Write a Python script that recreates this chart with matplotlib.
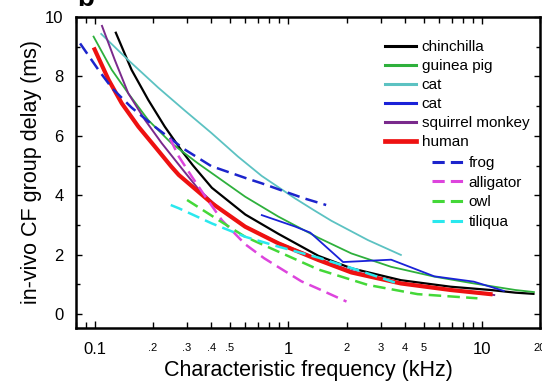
import matplotlib
matplotlib.use("Agg")
import matplotlib.pyplot as plt
from matplotlib.ticker import FixedLocator, FixedFormatter, NullFormatter
from matplotlib.lines import Line2D

plt.rcParams["font.family"] = ["Liberation Sans", "DejaVu Sans"]

# data: frequency in kHz, delay in ms
chin_f = [0.1285, 0.155, 0.189, 0.23, 0.281, 0.322, 0.403, 0.6, 0.889, 1.43, 2.12, 3.82, 6.9, 11.1, 14.9, 18.5]
chin_d = [9.47, 8.22, 7.21, 6.31, 5.5, 5.0, 4.25, 3.35, 2.7, 1.96, 1.54, 1.14, 0.92, 0.81, 0.72, 0.68]

gpig_f = [0.0986, 0.1225, 0.149, 0.189, 0.249, 0.342, 0.599, 0.889, 1.43, 2.12, 3.4, 5.68, 9.1, 14.9, 18.6]
gpig_d = [9.34, 8.22, 7.43, 6.53, 5.75, 5.07, 3.95, 3.28, 2.57, 2.04, 1.59, 1.26, 1.03, 0.81, 0.74]

cat1_f = [0.108, 0.149, 0.213, 0.292, 0.4, 0.55, 0.729, 1.08, 1.37, 1.67, 2.58, 3.82]
cat1_d = [9.43, 8.55, 7.62, 6.85, 6.1, 5.3, 4.65, 3.9, 3.48, 3.14, 2.49, 1.99]

cat2_f = [0.73, 1.08, 1.3, 1.92, 3.4, 5.68, 9.1, 13.0]
cat2_d = [3.33, 2.95, 2.74, 1.75, 1.83, 1.27, 1.09, 0.78]

monk_f = [0.109, 0.127, 0.149, 0.182, 0.222, 0.281, 0.344, 0.45, 0.6, 0.889, 1.43, 2.12, 3.82, 6.9, 11.6]
monk_d = [9.7, 8.55, 7.43, 6.53, 5.75, 4.91, 4.2, 3.5, 2.95, 2.4, 1.86, 1.45, 1.05, 0.82, 0.64]

hum_f = [0.0998, 0.118, 0.138, 0.168, 0.205, 0.249, 0.272, 0.403, 0.599, 0.889, 1.43, 2.12, 3.82, 6.9, 11.1]
hum_d = [8.91, 7.88, 7.09, 6.31, 5.63, 4.96, 4.68, 3.73, 2.94, 2.38, 1.82, 1.4, 1.03, 0.81, 0.67]

frog_f = [0.084, 0.105, 0.123, 0.155, 0.205, 0.29, 0.4, 0.62, 0.73, 0.89, 1.2, 1.57]
frog_d = [9.11, 8.2, 7.6, 6.95, 6.3, 5.55, 4.98, 4.55, 4.4, 4.2, 3.9, 3.67]

alli_f = [0.245, 0.272, 0.318, 0.373, 0.454, 0.599, 0.75, 0.889, 1.17, 1.43, 2.0]
alli_d = [5.9, 5.3, 4.62, 3.95, 3.16, 2.35, 1.88, 1.58, 1.1, 0.85, 0.42]

owl_f = [0.3, 0.437, 0.599, 0.889, 1.43, 2.58, 4.66, 9.5]
owl_d = [3.84, 3.16, 2.6, 2.1, 1.5, 0.98, 0.67, 0.53]

tili_f = [0.247, 0.272, 0.403, 0.6, 0.889, 1.43, 2.12, 3.8]
tili_d = [3.67, 3.56, 3.05, 2.6, 2.27, 1.9, 1.55, 1.0]

major_x = [0.1, 1, 10]
major_x_labels = ["0.1", "1", "10"]
minor_x = [0.08, 0.09, 0.2, 0.3, 0.4, 0.5, 0.6, 0.7, 0.8, 0.9,
           2, 3, 4, 5, 6, 7, 8, 9, 20]
minor_x_labels = ["", "", ".2", ".3", ".4", ".5", "", "", "", "",
                  "2", "3", "4", "5", "", "", "", "", "20"]

fig = plt.figure(figsize=(5.42, 3.82), dpi=100)
ax = fig.add_axes([76 / 542, 54 / 382, 464 / 542, 311 / 382])

solid = [
    (chin_f, chin_d, "black", 1.6, "chinchilla"),
    (gpig_f, gpig_d, "#2eb03c", 1.3, "guinea pig"),
    (cat1_f, cat1_d, "#5cc2c2", 1.3, "cat"),
    (cat2_f, cat2_d, "#1a22d8", 1.3, "cat"),
    (monk_f, monk_d, "#7a2a8c", 1.4, "squirrel monkey"),
]
dashed = [
    (frog_f, frog_d, "#1c24cc", "frog"),
    (alli_f, alli_d, "#dd44dd", "alligator"),
    (owl_f, owl_d, "#44d838", "owl"),
    (tili_f, tili_d, "#2ae8ee", "tiliqua"),
]

h1 = []
for f, d, c, lw, lab in solid:
    ax.plot(f, d, color=c, lw=lw)
    h1.append(Line2D([], [], color=c, lw=2.2, label=lab))
ax.plot(hum_f, hum_d, color="#ee1111", lw=3.0)
h1.append(Line2D([], [], color="#ee1111", lw=3.4, label="human"))

h2 = []
for f, d, c, lab in dashed:
    ax.plot(f, d, color=c, lw=1.8, dashes=(5, 2.5))
    h2.append(Line2D([], [], color=c, lw=2.2, dashes=(4, 2), label=lab))

ax.set_xscale("log")
ax.set_xlim(0.08, 20)
ax.set_ylim(-0.47, 10)

ax.xaxis.set_major_locator(FixedLocator(major_x))
ax.xaxis.set_major_formatter(FixedFormatter(major_x_labels))
ax.xaxis.set_minor_locator(FixedLocator(minor_x))
ax.xaxis.set_minor_formatter(FixedFormatter(minor_x_labels))
ax.set_yticks([0, 2, 4, 6, 8, 10])
ax.set_yticks([1, 3, 5, 7, 9], minor=True)
ax.yaxis.set_minor_formatter(NullFormatter())

ax.tick_params(which="both", direction="in", top=True, right=True, width=1.0)
ax.tick_params(axis="x", which="major", length=5, labelsize=12, pad=10)
ax.tick_params(axis="x", which="minor", length=4, labelsize=8, pad=11)
ax.tick_params(axis="y", which="major", length=4, labelsize=12, pad=9)
ax.tick_params(axis="y", which="minor", length=3)
for s in ax.spines.values():
    s.set_linewidth(1.8)

ax.set_xlabel("Characteristic frequency (kHz)", fontsize=15.5, labelpad=2)
ax.set_ylabel("in-vivo CF group delay (ms)", fontsize=15.5, labelpad=2)

leg1 = ax.legend(handles=h1, loc="upper left", frameon=False,
                 bbox_to_anchor=(385 / 542, 1 - 40 / 382), bbox_transform=fig.transFigure,
                 fontsize=11, handlelength=2.0, handletextpad=0.4,
                 labelspacing=0.33, borderpad=0, borderaxespad=0)
ax.add_artist(leg1)
ax.legend(handles=h2, loc="upper left", frameon=False,
          bbox_to_anchor=(432 / 542, 1 - 156 / 382), bbox_transform=fig.transFigure,
          fontsize=11, handlelength=2.0, handletextpad=0.4,
          labelspacing=0.37, borderpad=0, borderaxespad=0)

# panel letter, cut off at the top of the figure
fig.text(77 / 542, 1 - 12 / 382, "b", fontsize=20, fontweight="bold", va="bottom", ha="left")

fig.savefig("out.png", dpi=100)
